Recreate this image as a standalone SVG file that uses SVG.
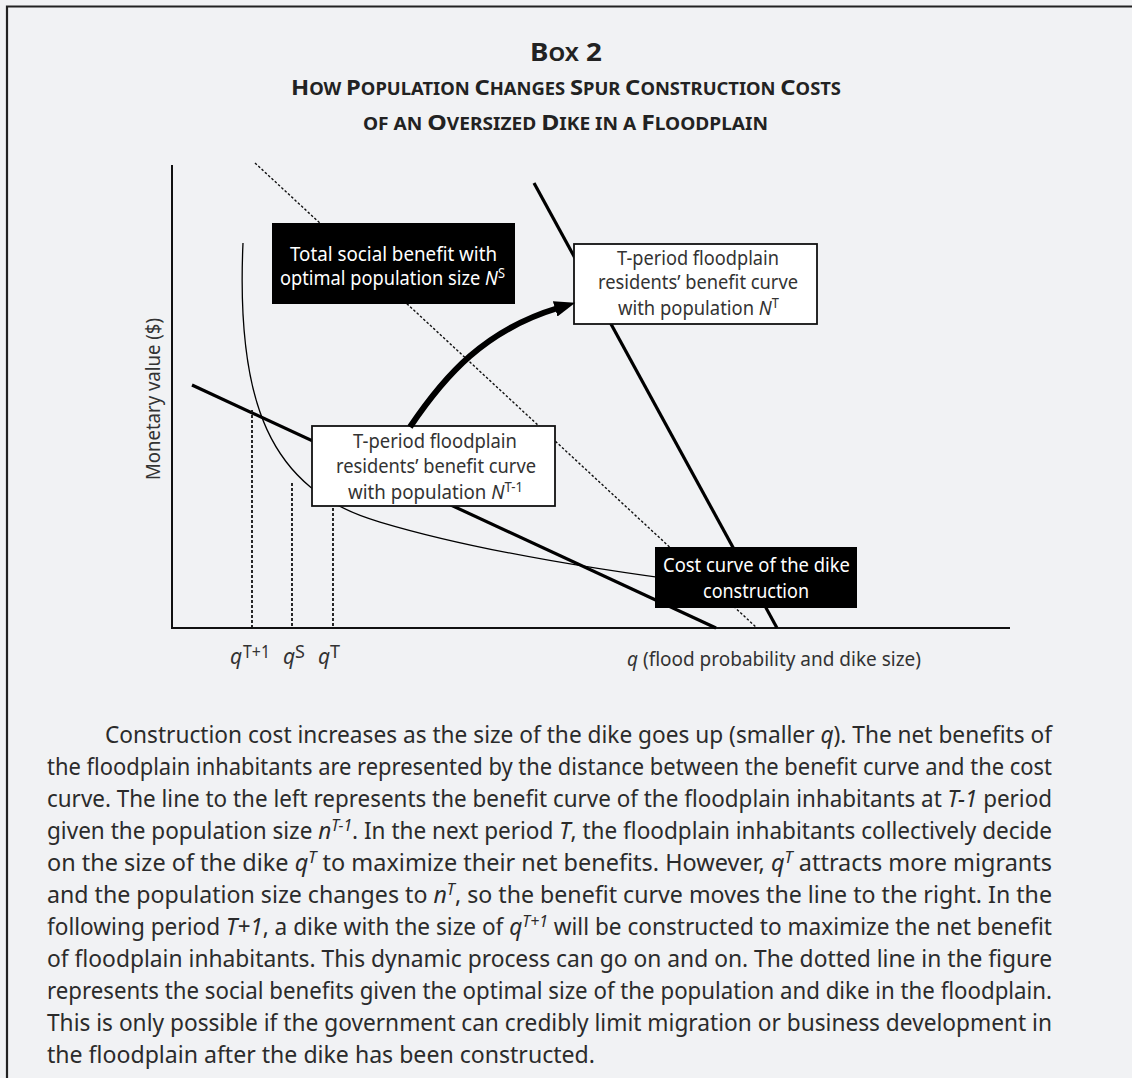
<svg xmlns="http://www.w3.org/2000/svg" width="1132" height="1078" viewBox="0 0 1132 1078">
<defs>
<marker id="ah" markerUnits="userSpaceOnUse" markerWidth="22" markerHeight="16" refX="3" refY="8" orient="auto">
<path d="M0,0 L21,8 L0,16 Z" fill="#000"/>
</marker>
<style>
text{font-family:"Noto Sans","Open Sans","DejaVu Sans",sans-serif;}
.title{font-weight:700;fill:#222;}
.big{font-size:25px;}
.sm{font-size:19px;}
.big2{font-size:22px;}
.sm2{font-size:17px;}
.lbl{font-size:20px;fill:#333;}
.wlbl{font-size:20px;fill:#fff;}
.sup{font-size:14px;font-style:normal;}
.it{font-style:italic;}
.para{font-size:23px;fill:#2b2b2b;}
.psup{font-size:16px;font-style:italic;}
.axis{stroke:#111;stroke-width:2;fill:none;}
.thick{stroke:#000;stroke-width:3.2;fill:none;}
.thin{stroke:#000;stroke-width:1.3;fill:none;}
.dot{stroke:#111;stroke-width:1.4;stroke-dasharray:2.5 2;fill:none;}
.vdot{stroke:#111;stroke-width:1.8;stroke-dasharray:3 2;fill:none;}
.wbox{fill:#fff;stroke:#111;stroke-width:1.8;}
.bbox{fill:#000;}
</style>
</defs>
<rect x="0" y="0" width="1132" height="1078" fill="#f1f2f4"/>
<path d="M7,1078 L7,6.5 L1132,6.5" fill="none" stroke="#222" stroke-width="2.2"/>

<g id="title">
<text class="title" x="530" y="61" textLength="72" lengthAdjust="spacingAndGlyphs"><tspan class="big">B</tspan><tspan class="sm">OX</tspan><tspan class="big"> 2</tspan></text>
<text class="title" x="291" y="95" textLength="550" lengthAdjust="spacingAndGlyphs"><tspan class="big2">H</tspan><tspan class="sm2">OW </tspan><tspan class="big2">P</tspan><tspan class="sm2">OPULATION </tspan><tspan class="big2">C</tspan><tspan class="sm2">HANGES </tspan><tspan class="big2">S</tspan><tspan class="sm2">PUR </tspan><tspan class="big2">C</tspan><tspan class="sm2">ONSTRUCTION </tspan><tspan class="big2">C</tspan><tspan class="sm2">OSTS</tspan></text>
<text class="title" x="363" y="130" textLength="405" lengthAdjust="spacingAndGlyphs"><tspan class="sm2">OF AN </tspan><tspan class="big2">O</tspan><tspan class="sm2">VERSIZED </tspan><tspan class="big2">D</tspan><tspan class="sm2">IKE IN A </tspan><tspan class="big2">F</tspan><tspan class="sm2">LOODPLAIN</tspan></text>
</g>

<g id="axes">
<path class="axis" d="M172,165 L172,628 L1010,628"/>
<text class="lbl" transform="translate(160,480) rotate(-90)" x="0" y="0" textLength="162" lengthAdjust="spacingAndGlyphs">Monetary value ($)</text>
<text class="lbl" x="627" y="666" textLength="294" lengthAdjust="spacingAndGlyphs"><tspan class="it">q</tspan> (flood probability and dike size)</text>
<text class="lbl" x="230" y="664" style="font-size:21px"><tspan class="it">q</tspan></text>
<text class="lbl" x="243" y="658" textLength="27" lengthAdjust="spacingAndGlyphs" style="font-size:18px">T+1</text>
<text class="lbl" x="283" y="664" style="font-size:21px"><tspan class="it">q</tspan></text>
<text class="lbl" x="295" y="658" style="font-size:18px">S</text>
<text class="lbl" x="318" y="664" style="font-size:21px"><tspan class="it">q</tspan></text>
<text class="lbl" x="330" y="658" style="font-size:18px">T</text>
</g>

<g id="connectors">
<path id="cost-curve" class="thin" d="M243,243 C236,400 268,490 380,522 C460,546 560,565 700,583"/>
<path id="social-benefit" class="dot" d="M255,163 L757,628"/>
<path id="benefit-t-1" class="thick" d="M192,385 L716,628"/>
<path id="benefit-t" class="thick" d="M534,183 L777,628"/>
<path class="vdot" d="M252,410 L252,628"/>
<path class="vdot" d="M292,483 L292,628"/>
<path class="vdot" d="M333,508 L333,628"/>
</g>

<g id="node-social">
<rect class="bbox" x="272" y="223" width="243" height="81"/>
<text class="wlbl" x="290" y="261" textLength="207" lengthAdjust="spacingAndGlyphs">Total social benefit with</text>
<text class="wlbl" x="280" y="285" textLength="225" lengthAdjust="spacingAndGlyphs">optimal population size <tspan class="it">N</tspan><tspan class="sup" dy="-7">S</tspan></text>
</g>

<g id="node-nt">
<rect class="wbox" x="574" y="244" width="243" height="80"/>
<text class="lbl" x="617" y="265" textLength="162" lengthAdjust="spacingAndGlyphs">T-period floodplain</text>
<text class="lbl" x="598" y="289" textLength="200" lengthAdjust="spacingAndGlyphs">residents’ benefit curve</text>
<text class="lbl" x="618" y="315" textLength="161" lengthAdjust="spacingAndGlyphs">with population <tspan class="it">N</tspan><tspan class="sup" dy="-7">T</tspan></text>
</g>

<g id="node-nt1">
<rect class="wbox" x="312" y="426" width="243" height="80"/>
<text class="lbl" x="353" y="448" textLength="164" lengthAdjust="spacingAndGlyphs">T-period floodplain</text>
<text class="lbl" x="336" y="473" textLength="200" lengthAdjust="spacingAndGlyphs">residents’ benefit curve</text>
<text class="lbl" x="348" y="499" textLength="175" lengthAdjust="spacingAndGlyphs">with population <tspan class="it">N</tspan><tspan class="sup" dy="-7">T-1</tspan></text>
</g>

<g id="node-cost">
<rect class="bbox" x="655" y="547" width="202" height="61"/>
<text class="wlbl" x="663" y="572" textLength="187" lengthAdjust="spacingAndGlyphs">Cost curve of the dike</text>
<text class="wlbl" x="703" y="598" textLength="106" lengthAdjust="spacingAndGlyphs">construction</text>
</g>

<g id="arrow">
<path d="M410,427 C445,375 485,330 558,308" fill="none" stroke="#000" stroke-width="6" marker-end="url(#ah)"/>
</g>

<g id="caption">
<text class="para" x="105" y="743" textLength="947" lengthAdjust="spacingAndGlyphs">Construction cost increases as the size of the dike goes up (smaller <tspan class="it">q</tspan>). The net benefits of</text>
<text class="para" x="47" y="775" textLength="1005" lengthAdjust="spacingAndGlyphs">the floodplain inhabitants are represented by the distance between the benefit curve and the cost</text>
<text class="para" x="47" y="807" textLength="1005" lengthAdjust="spacingAndGlyphs">curve. The line to the left represents the benefit curve of the floodplain inhabitants at <tspan class="it">T-1</tspan> period</text>
<text class="para" x="47" y="839" textLength="1005" lengthAdjust="spacingAndGlyphs">given the population size <tspan class="it">n</tspan><tspan class="psup" dy="-8">T-1</tspan><tspan dy="8">. In the next period </tspan><tspan class="it">T</tspan>, the floodplain inhabitants collectively decide</text>
<text class="para" x="47" y="871" textLength="1005" lengthAdjust="spacingAndGlyphs">on the size of the dike <tspan class="it">q</tspan><tspan class="psup" dy="-8">T</tspan><tspan dy="8"> to maximize their net benefits. However, </tspan><tspan class="it">q</tspan><tspan class="psup" dy="-8">T</tspan><tspan dy="8"> attracts more migrants</tspan></text>
<text class="para" x="47" y="903" textLength="1005" lengthAdjust="spacingAndGlyphs">and the population size changes to <tspan class="it">n</tspan><tspan class="psup" dy="-8">T</tspan><tspan dy="8">, so the benefit curve moves the line to the right. In the</tspan></text>
<text class="para" x="47" y="935" textLength="1005" lengthAdjust="spacingAndGlyphs">following period <tspan class="it">T+1</tspan>, a dike with the size of <tspan class="it">q</tspan><tspan class="psup" dy="-8">T+1</tspan><tspan dy="8"> will be constructed to maximize the net benefit</tspan></text>
<text class="para" x="47" y="967" textLength="1005" lengthAdjust="spacingAndGlyphs">of floodplain inhabitants. This dynamic process can go on and on. The dotted line in the figure</text>
<text class="para" x="47" y="999" textLength="1005" lengthAdjust="spacingAndGlyphs">represents the social benefits given the optimal size of the population and dike in the floodplain.</text>
<text class="para" x="47" y="1031" textLength="1005" lengthAdjust="spacingAndGlyphs">This is only possible if the government can credibly limit migration or business development in</text>
<text class="para" x="47" y="1063" textLength="548" lengthAdjust="spacingAndGlyphs">the floodplain after the dike has been constructed.</text>
</g>
</svg>
